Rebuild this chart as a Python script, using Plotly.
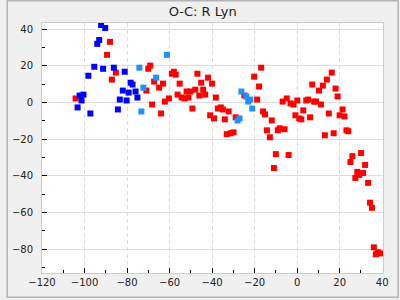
import plotly.graph_objects as go

# ---- data ----
red_x = [-104.2, -89.4, -88.0, -87.1, -85.25, -70.9, -70.0, -69.1, -68.2, -67.25,
         -64.9, -64.0, -63.1, -62.2, -60.3, -58.9, -58.0, -57.1, -56.2, -55.25,
         -54.3, -52.9, -52.0, -51.1, -50.2, -49.25, -47.9, -46.9, -46.0, -45.1,
         -44.2, -43.25, -41.9, -40.9, -40.0, -39.1, -38.2, -37.25, -35.9, -34.95,
         -34.0, -33.1, -32.2, -31.25, -29.9, -28.9, -24.8, -20.2, -18.8, -17.9,
         -16.9, -16.0, -15.1, -14.2, -12.8, -11.9, -10.9, -10.0, -9.1, -8.2,
         -5.9, -6.8, -4.9, -4.0, -3.1, -1.7, -0.8, 0.1, 1.0, 2.0,
         2.9, 4.3, 5.2, 6.1, 7.1, 8.0, 8.9, 10.3, 11.2, 12.1,
         13.05, 14.0, 14.9, 16.3, 17.2, 18.1, 19.05, 20.0, 21.4, 22.3,
         23.2, 24.1, 25.1, 26.0, 27.4, 28.3, 29.2, 30.1, 31.05, 32.0,
         33.4, 34.3, 35.2, 36.1, 37.05, 38.0, 39.4]
red_y = [2.2, 26.0, 33.1, 12.5, 16.3, 6.5, 18.4, 20.1, -1.1, 11.4,
         8.1, -6.0, 10.3, 0.5, 2.2, 15.7, 16.8, 15.2, 4.3, 10.3,
         2.7, 2.2, 6.0, 2.7, 6.0, -3.3, 7.0, 15.7, 3.8, 10.8,
         7.0, 4.3, 13.55, -7.0, 10.3, -8.7, 2.7, -3.3, -2.7, -3.8,
         -9.2, -17.3, -4.9, -16.8, -16.3, -8.1, 3.8, 14.1, 1.6, 8.7,
         19.0, -4.9, -6.5, -15.2, -19.0, -9.8, -35.8, -28.2, -15.2, -14.1,
         -14.6, 0.5, 2.2, -28.7, -0.5, -1.1, -7.0, 1.1, -8.7, -9.2,
         -4.3, 1.1, 1.6, -8.1, 9.8, 0.5, 0.5, 6.5, -1.1, 9.2,
         -17.9, 12.5, -6.0, 16.3, -16.8, 7.6, 3.3, -7.0, -3.8, -7.6,
         -15.2, -15.7, -32.5, -29.3, -41.2, -37.9, -39.6, -27.6, -38.5, -34.1,
         -43.9, -54.7, -57.5, -79.1, -82.9, -81.8, -82.4]

blue_x = [-103.25, -102.3, -101.4, -100.5, -98.2, -97.25, -95.4, -94.0, -93.1, -92.2,
          -90.3, -91.25, -86.2, -84.3, -83.4, -82.0, -81.1, -80.2, -79.25, -78.3,
          -77.4, -76.0, -75.1]
blue_y = [-2.7, 3.8, 1.1, 4.3, 14.6, -6.0, 19.5, 32.0, 34.1, 42.3,
          40.65, 18.4, 19.0, -3.8, 1.6, 6.5, 16.8, 1.1, 5.4, 10.8,
          9.8, 6.0, 2.7]

lblue_x = [-74.2, -73.25, -72.3, -66.3, -61.25, -26.2, -23.9, -23.0, -22.0, -21.1,
           -28.0, -27.1]
lblue_y = [19.0, -4.9, 8.1, 13.55, 26.0, 6.0, 3.3, 0.5, 1.6, -3.3,
           -9.8, -8.7]

x_ticks = [-120, -100, -80, -60, -40, -20, 0, 20, 40]
y_ticks = [-80, -60, -40, -20, 0, 20, 40]
title_text = "O-C: R Lyn"

FONT = "DejaVu Sans"
W, H = 400, 300
ML, MR, MT, MB = 36, 16, 23, 25

fig = go.Figure()
for xs, ys, col in [(red_x, red_y, "#ff0000"),
                    (blue_x, blue_y, "#0000ff"),
                    (lblue_x, lblue_y, "#1e90ff")]:
    fig.add_trace(go.Scatter(x=xs, y=ys, mode="markers",
                             marker=dict(symbol="square", size=6, color=col,
                                         line=dict(width=0)),
                             showlegend=False))

axis_common = dict(
    showline=True, linecolor="#cccccc", linewidth=1, mirror=True,
    ticks="inside", ticklen=5, tickwidth=1, tickcolor="#000000",
    gridcolor="#dddddd", gridwidth=1, zeroline=False,
    tickfont=dict(family=FONT, size=10, color="#222222"),
    minor=dict(dtick=10, ticks="inside", ticklen=3, tickwidth=1,
               tickcolor="#000000", showgrid=False),
)

fig.update_xaxes(range=[-120, 40.4], tickmode="array", tickvals=x_ticks,
                 griddash="4px,3px", **axis_common)
fig.update_yaxes(range=[-93.1, 43.4], tickmode="array", tickvals=y_ticks,
                 ticklabelstandoff=6, **axis_common)

pw = W - ML - MR
ph = H - MT - MB
fig.add_shape(type="rect", xref="paper", yref="paper",
              x0=-ML / pw + 0.5 / pw, x1=1 + MR / pw - 0.5 / pw,
              y0=-MB / ph + 0.5 / ph, y1=1 + MT / ph - 0.5 / ph,
              line=dict(color="#b4b4b4", width=1.5), layer="below")

fig.update_layout(
    width=W, height=H,
    margin=dict(l=ML, r=MR, t=MT, b=MB, pad=0),
    paper_bgcolor="#f0f0f0", plot_bgcolor="#ffffff",
    title=dict(text=title_text, x=0.5, xref="paper", xanchor="center",
               y=1 - 11 / H, yref="container", yanchor="middle",
               font=dict(family=FONT, size=13, color="#222222")),
    font=dict(family=FONT),
)
fig.update_layout(title_x=(W / 2 - ML) / pw)

fig.write_html("out.html")
